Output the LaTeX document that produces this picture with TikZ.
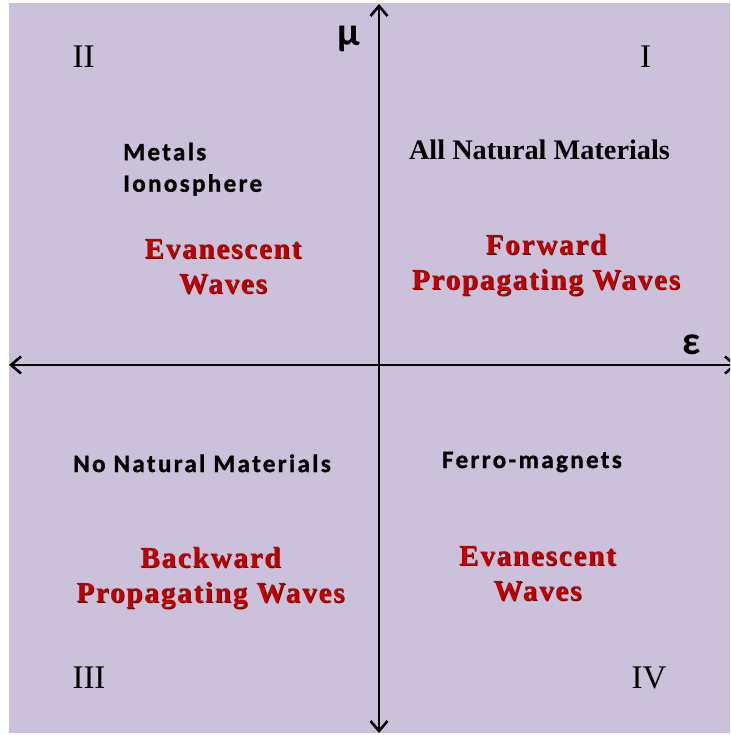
\documentclass[tikz,border=0pt]{standalone}
\usepackage{fontspec}
\setmainfont{Liberation Serif}
\newfontfamily\calfont[LetterSpace=9.5,BoldFeatures={FakeBold=1.2}]{Carlito}
\newfontfamily\greekfont{Carlito}
\newfontfamily\redserif[LetterSpace=6]{Liberation Serif}
\newfontfamily\blkserif{Liberation Serif}
\usetikzlibrary{arrows.meta}
\definecolor{bglav}{HTML}{CCC1DA}
\definecolor{wavered}{HTML}{C00000}
\definecolor{waveshadow}{HTML}{5A0A10}
\newcommand\shtext[1]{\makebox[0pt][l]{\kern0.9pt\raisebox{-0.9pt}{\textcolor{waveshadow}{#1}}}\textcolor{wavered}{#1}}
\tikzset{
  axis/.style={line width=2.6pt, black, {Straight Barb[length=10pt,width=17pt,line width=2.6pt]}-{Straight Barb[length=10pt,width=17pt,line width=2.6pt]}},
  numeral/.style={inner sep=0, anchor=base, font=\blkserif\fontsize{33}{38}\selectfont},
  material/.style={inner sep=0, font=\calfont\bfseries\fontsize{25}{31.5}\selectfont},
  serifmat/.style={inner sep=0, anchor=base, font=\blkserif\bfseries\fontsize{28.3}{33}\selectfont},
  wavetext/.style={inner sep=0, align=center, text=wavered, font=\redserif\bfseries\fontsize{29.2}{35}\selectfont},
  greek/.style={inner sep=0, anchor=base, font=\greekfont\bfseries\fontsize{40}{44}\selectfont}
}
\begin{document}
\begin{tikzpicture}[x=1pt,y=-1pt]
\useasboundingbox (0,0) rectangle (730,735);
\fill[white] (0,0) rectangle (730,735);
\fill[bglav] (9,3) rectangle (730,733);
\begin{scope}
\clip (0,0) rectangle (730,735);
\coordinate (ytop) at (379,4);
\coordinate (ybot) at (379,733);
\coordinate (xleft) at (9,365);
\coordinate (xright) at (737,365);
\draw[axis] (xleft) -- (xright);
\draw[axis] (ybot) -- (ytop);
\end{scope}
\node[greek] (mu) at (349,46) {μ};
\node[greek] (eps) at (692,354) {ε};
\node[numeral] (q2) at (83.5,67.5) {II};
\node[numeral] (q1) at (645.5,67.5) {I};
\node[numeral] (q3) at (89,688) {III};
\node[numeral] (q4) at (649,688) {IV};
\node[material, align=left, anchor=north west] (metals) at (123,142.5) {Metals\\Ionosphere};
\node[serifmat] (allnat) at (539.5,160) {All Natural Materials};
\node[material, anchor=base] (nonat) at (202,472) {No Natural Materials};
\node[material, anchor=base] (ferro) at (532,468) {Ferro-magnets};
\node[wavetext] (evan1) at (223,267) {\shtext{Evanescent}\\\shtext{Waves}};
\node[wavetext] (fwd) at (546,265.5) {\shtext{Forward}\\\shtext{Propagating Waves}};
\node[wavetext] (bwd) at (210.5,578.5) {\shtext{Backward}\\\shtext{Propagating Waves}};
\node[wavetext] (evan4) at (537.5,574) {\shtext{Evanescent}\\\shtext{Waves}};
\end{tikzpicture}
\end{document}
